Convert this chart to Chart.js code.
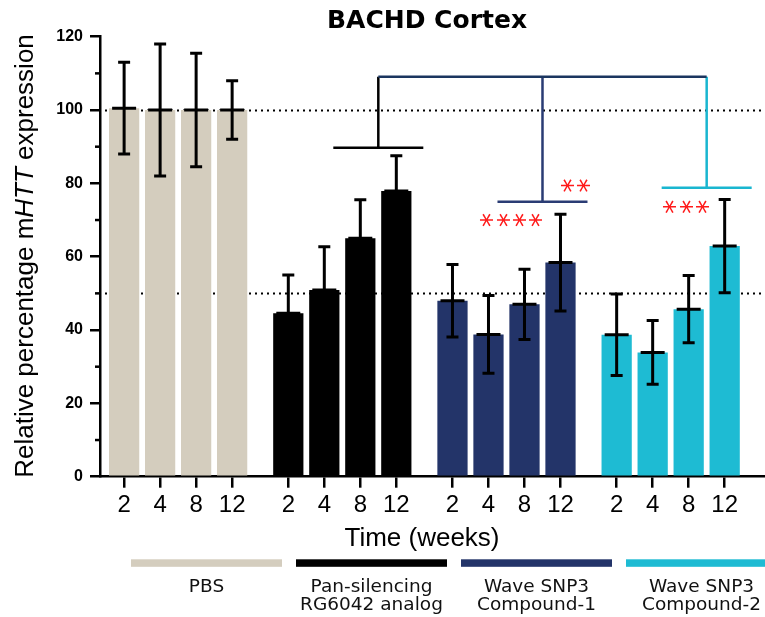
<!DOCTYPE html>
<html><head><meta charset="utf-8">
<script src="https://cdn.jsdelivr.net/npm/chart.js@4.4.1/dist/chart.umd.min.js"></script>
<style>html,body{margin:0;padding:0;background:#fff}#wrap{width:765px;height:617px;position:relative}</style>
</head><body><div id="wrap"><canvas id="c"></canvas></div>
<script>
// ---- data ----
const weeks = ['2', '4', '8', '12'];
const treatments = ['PBS', 'Pan-silencing\nRG6042 analog', 'Wave SNP3\nCompound-1', 'Wave SNP3\nCompound-2'];
const pbsMean = [100.5, 100, 100, 100];
const pbsErr  = [12.5, 18, 15.5, 8];
const rgMean  = [44.6, 50.9, 65.0, 77.9];
const rgErr   = [10.4, 11.8, 10.5, 9.6];
const c1Mean  = [48.0, 38.8, 47.0, 58.4];
const c1Err   = [9.9, 10.6, 9.6, 13.2];
const c2Mean  = [38.7, 33.9, 45.7, 62.9];
const c2Err   = [11.1, 8.7, 9.2, 12.7];
const yTickValues = [0, 20, 40, 60, 80, 100, 120];
const refLevels = [100, 50];
const bracketTop = 109.1;
const bracketLevels = [89.7, 75.0, 78.8];   // RG6042, Compound-1, Compound-2
const sigLabels = ['****', '**', '***'];
const sigLevels = [70.0, 79.4, 73.6];

const means = [pbsMean, rgMean, c1Mean, c2Mean];
const errs = [pbsErr, rgErr, c1Err, c2Err];
const colors = ['#d4cdbe', '#000000', '#233469', '#1ebbd3'];
const GROUP_STEP = 4.56;
const xPos = (g, t) => g * GROUP_STEP + t;
const tickPositions = [];
means.forEach((m, g) => m.forEach((v, t) => tickPositions.push(xPos(g, t))));

const FONT = "'Liberation Sans', Arial, sans-serif";
const VFONT = "'DejaVu Sans', Verdana, sans-serif";

function drawStar(ctx, cx, cy, target) {
  ctx.save();
  ctx.font = '100px ' + VFONT;
  ctx.textAlign = 'left';
  ctx.textBaseline = 'alphabetic';
  const m = ctx.measureText('*');
  const w = m.actualBoundingBoxRight + m.actualBoundingBoxLeft;
  const size = 100 * target / w;
  ctx.font = size + 'px ' + VFONT;
  const m2 = ctx.measureText('*');
  const hc = (m2.actualBoundingBoxRight - m2.actualBoundingBoxLeft) / 2;
  const vc = (m2.actualBoundingBoxAscent - m2.actualBoundingBoxDescent) / 2;
  ctx.translate(cx, cy);
  ctx.rotate(Math.PI / 2);
  ctx.fillText('*', -hc, vc);
  ctx.restore();
}

const deco = {
  id: 'deco',
  beforeDatasetsDraw(chart) {
    const {ctx, chartArea: a, scales: {y}} = chart;
    ctx.save();
    ctx.strokeStyle = '#000';
    ctx.lineWidth = 2;
    ctx.setLineDash([2, 4]);
    refLevels.forEach(l => {
      const py = Math.round(y.getPixelForValue(l)) + 0.5;
      ctx.beginPath(); ctx.moveTo(a.left + 5, py); ctx.lineTo(a.right, py); ctx.stroke();
    });
    ctx.restore();
  },
  afterDatasetsDraw(chart) {
    const {ctx, scales: {x, y}} = chart;
    ctx.save();
    // error bars
    ctx.strokeStyle = '#000';
    ctx.lineWidth = 3;
    means.forEach((m, g) => m.forEach((v, t) => {
      const px = x.getPixelForValue(xPos(g, t));
      const e = errs[g][t];
      const top = y.getPixelForValue(v + e), bot = y.getPixelForValue(v - e), mid = y.getPixelForValue(v);
      ctx.beginPath();
      ctx.moveTo(px, top); ctx.lineTo(px, bot);
      ctx.moveTo(px - 6, top); ctx.lineTo(px + 6, top);
      ctx.moveTo(px - 6, bot); ctx.lineTo(px + 6, bot);
      ctx.moveTo(px - 12, mid); ctx.lineTo(px + 12, mid);
      ctx.stroke();
    }));
    // brackets
    const bColors = ['#000000', '#2a3c74', '#19b6d0'];
    const topY = y.getPixelForValue(bracketTop);
    const cx = [1, 2, 3].map(g => x.getPixelForValue(xPos(g, 2.5)));
    const half = x.getPixelForValue(1.25) - x.getPixelForValue(0);
    ctx.lineWidth = 2.5;
    [1, 2, 3].forEach((g, i) => {
      const ly = y.getPixelForValue(bracketLevels[i]);
      ctx.strokeStyle = bColors[i];
      ctx.beginPath();
      ctx.moveTo(cx[i] - half, ly); ctx.lineTo(cx[i] + half, ly);
      ctx.moveTo(cx[i], ly); ctx.lineTo(cx[i], topY);
      ctx.stroke();
    });
    ctx.strokeStyle = '#1b355f';
    ctx.beginPath(); ctx.moveTo(cx[0], topY); ctx.lineTo(cx[2], topY); ctx.stroke();
    // significance stars
    const sigX = [xPos(2, 1.62), xPos(2, 3.41), xPos(3, 1.92)];
    ctx.fillStyle = '#ff1a1a';
    sigLabels.forEach((s, i) => {
      const cxp = x.getPixelForValue(sigX[i]);
      const cyp = y.getPixelForValue(sigLevels[i]);
      const step = 16.3;
      for (let k = 0; k < s.length; k++) {
        drawStar(ctx, cxp + (k - (s.length - 1) / 2) * step, cyp, 13);
      }
    });
    ctx.restore();
  },
  afterDraw(chart) {
    const {ctx, chartArea: a, scales: {y}} = chart;
    ctx.save();
    // minor y ticks
    ctx.strokeStyle = '#000'; ctx.lineWidth = 2.5;
    for (let v = 10; v < 120; v += 20) {
      const py = y.getPixelForValue(v);
      ctx.beginPath(); ctx.moveTo(a.left - 5, py); ctx.lineTo(a.left, py); ctx.stroke();
    }
    // title
    ctx.fillStyle = '#000';
    ctx.font = 'bold 25px ' + VFONT;
    ctx.textAlign = 'center'; ctx.textBaseline = 'alphabetic';
    ctx.fillText('BACHD Cortex', 427, 27.5);
    // x title
    ctx.font = '26px ' + FONT;
    ctx.fillText('Time (weeks)', 422, 546);
    // y title (mixed italic)
    const parts = [['Relative percentage m', ''], ['HTT', 'italic '], [' expression', '']];
    let total = 0;
    parts.forEach(p => { ctx.font = p[1] + '26px ' + FONT; p.w = ctx.measureText(p[0]).width; total += p.w; });
    ctx.translate(33, 256);
    ctx.rotate(-Math.PI / 2);
    ctx.textAlign = 'left';
    let cur = -total / 2;
    parts.forEach(p => { ctx.font = p[1] + '26px ' + FONT; ctx.fillText(p[0], cur, 0); cur += p.w; });
    ctx.setTransform(1, 0, 0, 1, 0, 0);
    // legend
    ctx.textAlign = 'center'; ctx.textBaseline = 'alphabetic';
    ctx.font = '18.5px ' + VFONT;
    treatments.forEach((lab, i) => {
      const left = 131 + i * 165, w = 151;
      ctx.fillStyle = colors[i];
      ctx.fillRect(left, 559.3, w, 7.5);
      ctx.fillStyle = '#111';
      lab.split('\n').forEach((line, j) => ctx.fillText(line, left + w / 2, 592.3 + j * 17.5));
    });
    ctx.restore();
  }
};

new Chart(document.getElementById('c'), {
  type: 'bar',
  data: {
    datasets: means.map((m, g) => ({
      label: treatments[g].replace('\n', ' '),
      data: m.map((v, t) => ({x: xPos(g, t), y: v})),
      backgroundColor: colors[g],
      borderWidth: 0,
      grouped: false,
      barPercentage: 0.84,
      categoryPercentage: 1
    }))
  },
  options: {
    responsive: true,
    maintainAspectRatio: false,
    animation: false,
    events: [],
    layout: {padding: {top: 36.7, left: 0, right: 0, bottom: 0}},
    plugins: {legend: {display: false}, tooltip: {enabled: false}, title: {display: false}},
    scales: {
      x: {
        type: 'linear', min: -0.67, max: 17.8, offset: false,
        afterBuildTicks: s => { s.ticks = tickPositions.map(v => ({value: v})); },
        afterFit: s => { s.height = 140.3; },
        ticks: {autoSkip: false, maxRotation: 0, minRotation: 0, padding: 3,
          callback: (v, i) => weeks[i % 4], color: '#000', font: {family: FONT, size: 24}},
        grid: {offset: false, drawOnChartArea: false, drawTicks: true, tickLength: 11, lineWidth: 2.5, color: '#000'},
        border: {display: true, color: '#000', width: 2.5}
      },
      y: {
        min: 0, max: 120,
        afterBuildTicks: s => { s.ticks = yTickValues.map(v => ({value: v})); },
        afterFit: s => { s.width = 100; },
        ticks: {padding: 7, color: '#000', font: {family: FONT, size: 16, weight: 'bold'}},
        grid: {drawOnChartArea: false, drawTicks: true, tickLength: 10, lineWidth: 2.5, color: '#000'},
        border: {display: true, color: '#000', width: 2.5}
      }
    }
  },
  plugins: [deco]
});
</script>
</body></html>
